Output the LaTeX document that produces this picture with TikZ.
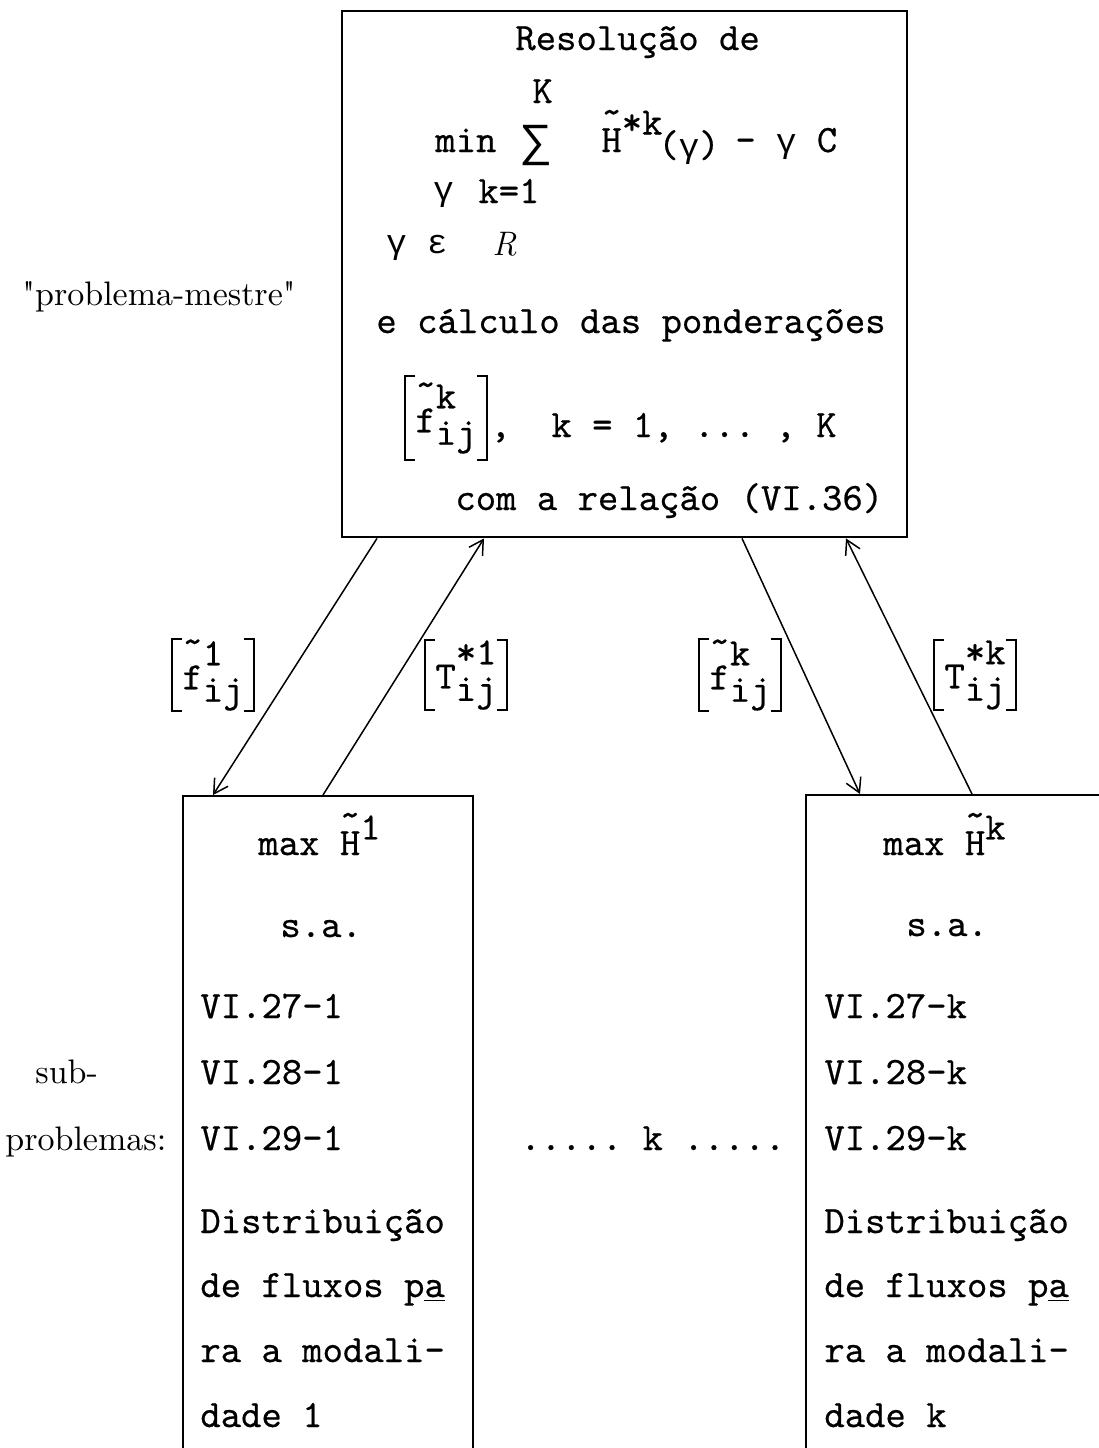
\documentclass[tikz,border=0pt]{standalone}
\usepackage{fontspec}
\setmonofont{lmmono10-regular.otf}[FakeBold=0.5]
\newfontfamily\grk{Liberation Mono}[Scale=0.875]
\newfontfamily\plainrm{lmroman10-regular.otf}
\usetikzlibrary{arrows.meta,calc}

% a typewriter tilde set above a letter: #1 = lift, #2 = letter
\newcommand\tld[2]{\leavevmode\rlap{\raisebox{#1}{\char"7E}}#2}
% superscript stacked over subscript, both at full size
\newcommand\supsub[2]{\rlap{\raisebox{0.62em}{#1}}\raisebox{-0.32em}{#2}}

\begin{document}
\begin{tikzpicture}[x=0.5pt,y=-0.5pt,
  frame/.style={draw, line width=1.2pt, inner sep=0pt, anchor=north west},
  tw/.style={font=\fontsize{19.4}{22}\selectfont\ttfamily, inner sep=0pt, anchor=base west},
  rm/.style={font=\fontsize{17}{20}\selectfont\plainrm, inner sep=0pt, anchor=base west},
  lbl/.style={font=\fontsize{19.4}{22}\selectfont\ttfamily, inner ysep=0pt, inner xsep=5pt, anchor=center, minimum height=35pt},
  link/.style={line width=0.75pt, -{Straight Barb[length=7pt,width=8pt]}},
  brack/.style={line width=1pt}
]
\useasboundingbox (0,0) rectangle (1099,1448);

% boxes
\node[frame, minimum width=282.5pt, minimum height=263pt] (master) at (341,10) {};
\node[frame, minimum width=145pt, minimum height=340pt] (sub1) at (182,795) {};
\node[frame, minimum width=160pt, minimum height=340pt] (sub2) at (805,794) {};

% master problem
\node[tw] (r1) at (515,50) {Resolução de};
\node[tw] (rK) at (532,103) {K};
\node[tw] (rmin) at (435,152) {min};
\node[tw, scale=1.35] (rsum) at (522,155) {\grk ∑};
\node[tw] (rH) at (601,152) {\tld{0.72em}{H}\raisebox{0.45em}{*k}};
\node[tw] (rg) at (658,157) {(\grk γ\normalfont\ttfamily)};
\node[tw] (rC) at (735,152) {- {\grk γ} C};
\node[tw] (rg2) at (433,200) {\grk γ};
\node[tw] (rk1) at (478,203) {k=1};
\node[tw] (rge) at (386,253) {\grk γ ε};
\node[tw] (rR) at (492,255) {\fontsize{17}{20}\selectfont\rmfamily\itshape R};
\node[tw] (r2) at (376,333) {e cálculo das ponderações};
\node[lbl, minimum height=41.5pt] (lfm) at (446,418) {\tld{0.92em}{f}\supsub{k}{ij}};
\node[tw] (rcom) at (490,437) {,};
\node[tw] (rkK) at (551,437) {k = 1, ... , K};
\node[tw] (r3) at (455,510) {com a relação (VI.36)};

% subproblem 1
\node[tw] (a1) at (258,855) {max \tld{0.72em}{H}\raisebox{0.4em}{1}};
\node[tw] (a2) at (280,937) {s.a.};
\node[tw] (a3) at (200,1018) {VI.27-1};
\node[tw] (a4) at (200,1084) {VI.28-1};
\node[tw] (a5) at (200,1150) {VI.29-1};
\node[tw] (a6) at (200,1233) {Distribuição};
\node[tw] (a7) at (200,1297) {de fluxos p\underline{a}};
\node[tw] (a8) at (200,1362) {ra a modali-};
\node[tw] (a9) at (200,1427) {dade 1};

% subproblem k
\node[tw] (b1) at (883,855) {max \tld{0.72em}{H}\raisebox{0.4em}{k}};
\node[tw] (b2) at (906,936) {s.a.};
\node[tw] (b3) at (824,1018) {VI.27-k};
\node[tw] (b4) at (824,1084) {VI.28-k};
\node[tw] (b5) at (824,1150) {VI.29-k};
\node[tw] (b6) at (824,1233) {Distribuição};
\node[tw] (b7) at (824,1297) {de fluxos p\underline{a}};
\node[tw] (b8) at (824,1362) {ra a modali-};
\node[tw] (b9) at (824,1427) {dade k};

\node[tw] (dots) at (520,1150) {..... k .....};

% side captions
\node[rm] (cm) at (22,305) {"problema-mestre"};
\node[rm] (cs1) at (35,1083) {sub-};
\node[rm] (cs2) at (5,1150) {problemas:};

% exchanged quantities
\node[lbl] (lf1) at (213,675) {\tld{0.92em}{f}\supsub{1}{ij}};
\node[lbl] (lt1) at (466,675) {T\supsub{*1}{ij}};
\node[lbl] (lfk) at (740,675) {\tld{0.92em}{f}\supsub{k}{ij}};
\node[lbl] (ltk) at (975,675) {T\supsub{*k}{ij}};

\foreach \n in {lf1,lt1,lfk,ltk,lfm} {
  \draw[brack] ([xshift=5pt]\n.north west) -- (\n.north west) -- (\n.south west) -- ([xshift=5pt]\n.south west);
  \draw[brack] ([xshift=-5pt]\n.north east) -- (\n.north east) -- (\n.south east) -- ([xshift=-5pt]\n.south east);
}

% connectors
\draw[link] ($(master.south west)+(36,0)$) -- ($(sub1.north west)+(31,0)$);
\draw[link] ($(sub1.north west)+(141,0)$) -- ($(master.south west)+(143,0)$);
\draw[link] ($(master.south west)+(401,0)$) -- ($(sub2.north west)+(55,0)$);
\draw[link] ($(sub2.north west)+(167,0)$) -- ($(master.south west)+(505,0)$);
\end{tikzpicture}
\end{document}
